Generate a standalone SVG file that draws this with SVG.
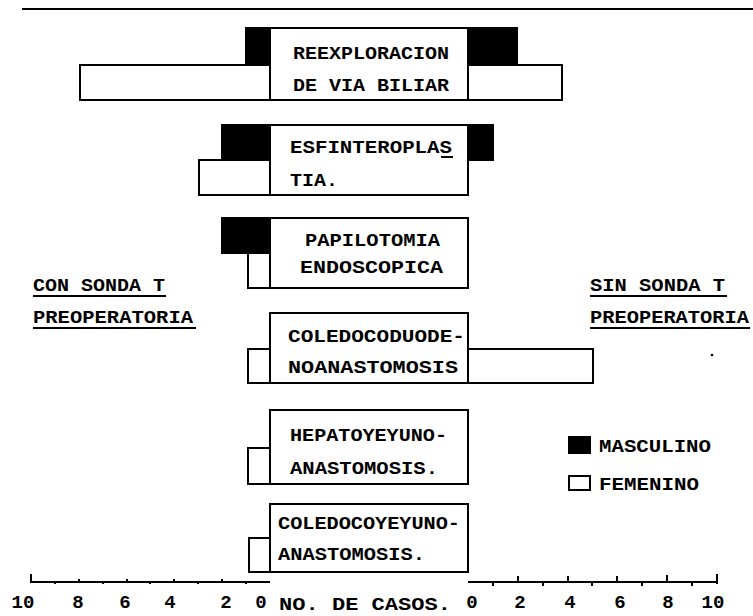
<svg xmlns="http://www.w3.org/2000/svg" width="753" height="616" viewBox="0 0 753 616">
<style>
.t{font-family:"Liberation Mono","DejaVu Sans Mono",monospace;font-weight:bold;font-size:19px;fill:#000}
.n{font-family:"Liberation Mono","DejaVu Sans Mono",monospace;font-weight:bold;font-size:19px;fill:#000;text-anchor:middle}
.box{fill:#fff;stroke:#000;stroke-width:2}
.m{fill:#000;stroke:#000;stroke-width:2}
.f{fill:#fff;stroke:#000;stroke-width:2}
.ln{stroke:#000;stroke-width:2;fill:none}
</style>
<rect width="753" height="616" fill="#fff"/>
<line class="ln" x1="22" y1="9" x2="753" y2="9"/>

<g id="reexploracion">
  <rect class="m" x="246" y="28" width="24" height="37"/>
  <rect class="m" x="468" y="28" width="49" height="36"/>
  <rect class="f" x="80" y="65" width="190" height="35"/>
  <rect class="f" x="468" y="65" width="94" height="35"/>
  <rect class="box" x="270" y="28" width="198" height="72"/>
  <text class="t" x="293" y="59" textLength="156" lengthAdjust="spacingAndGlyphs">REEXPLORACION</text>
  <text class="t" x="293" y="91" textLength="156" lengthAdjust="spacingAndGlyphs">DE VIA BILIAR</text>
</g>

<g id="esfinteroplastia">
  <rect class="m" x="222" y="125" width="48" height="35"/>
  <rect class="m" x="468" y="125" width="25" height="35"/>
  <rect class="f" x="199" y="160" width="71" height="35"/>
  <rect class="box" x="270" y="125" width="198" height="70"/>
  <text class="t" x="290" y="153" textLength="162" lengthAdjust="spacingAndGlyphs">ESFINTEROPLAS</text>
  <line class="ln" x1="441" y1="157" x2="453" y2="157"/>
  <text class="t" x="290" y="186" textLength="48" lengthAdjust="spacingAndGlyphs">TIA.</text>
</g>

<g id="papilotomia">
  <rect class="m" x="222" y="218" width="48" height="35"/>
  <rect class="f" x="248" y="253" width="22" height="35"/>
  <rect class="box" x="270" y="218" width="198" height="70"/>
  <text class="t" x="305" y="246" textLength="135" lengthAdjust="spacingAndGlyphs">PAPILOTOMIA</text>
  <text class="t" x="300" y="273" textLength="143" lengthAdjust="spacingAndGlyphs">ENDOSCOPICA</text>
</g>

<g id="coledocoduodenoanastomosis">
  <rect class="f" x="248" y="349" width="22" height="34"/>
  <rect class="f" x="468" y="349" width="125" height="34"/>
  <rect class="box" x="270" y="313" width="198" height="70"/>
  <text class="t" x="288" y="342" textLength="177" lengthAdjust="spacingAndGlyphs">COLEDOCODUODE-</text>
  <text class="t" x="288" y="373" textLength="170" lengthAdjust="spacingAndGlyphs">NOANASTOMOSIS</text>
</g>

<g id="hepatoyeyunoanastomosis">
  <rect class="f" x="248" y="448" width="22" height="36"/>
  <rect class="box" x="270" y="410" width="198" height="74"/>
  <text class="t" x="290" y="441" textLength="157" lengthAdjust="spacingAndGlyphs">HEPATOYEYUNO-</text>
  <text class="t" x="290" y="474" textLength="148" lengthAdjust="spacingAndGlyphs">ANASTOMOSIS.</text>
</g>

<g id="coledocoyeyunoanastomosis">
  <rect class="f" x="249" y="538" width="21" height="34"/>
  <rect class="box" x="270" y="504" width="198" height="68"/>
  <text class="t" x="278" y="529" textLength="182" lengthAdjust="spacingAndGlyphs">COLEDOCOYEYUNO-</text>
  <text class="t" x="278" y="560" textLength="147" lengthAdjust="spacingAndGlyphs">ANASTOMOSIS.</text>
</g>

<g id="label-con">
  <text class="t" x="33" y="291" textLength="132" lengthAdjust="spacingAndGlyphs">CON SONDA T</text>
  <line class="ln" x1="33" y1="296" x2="166" y2="296"/>
  <text class="t" x="33" y="323" textLength="160" lengthAdjust="spacingAndGlyphs">PREOPERATORIA</text>
  <line class="ln" x1="33" y1="328" x2="196" y2="328"/>
</g>

<g id="label-sin">
  <text class="t" x="590" y="291" textLength="135" lengthAdjust="spacingAndGlyphs">SIN SONDA T</text>
  <line class="ln" x1="590" y1="296" x2="727" y2="296"/>
  <text class="t" x="590" y="323" textLength="159" lengthAdjust="spacingAndGlyphs">PREOPERATORIA</text>
  <line class="ln" x1="590" y1="328" x2="750" y2="328"/>
  <circle cx="712" cy="355" r="1.3" fill="#000"/>
</g>

<g id="legend">
  <rect class="m" x="569" y="437" width="21" height="16"/>
  <text class="t" x="599" y="452" textLength="112" lengthAdjust="spacingAndGlyphs">MASCULINO</text>
  <rect class="f" x="569" y="476" width="21" height="14"/>
  <text class="t" x="599" y="490" textLength="100" lengthAdjust="spacingAndGlyphs">FEMENINO</text>
</g>

<g id="axes">
  <line class="ln" x1="31" y1="582" x2="270" y2="582"/>
  <line class="ln" x1="31" y1="574" x2="31" y2="583"/>
  <path class="ln" stroke-width="1.5" d="M55 582v2M79 582v-3M103 582v2M127 582v-3M150 582v2M174 582v-3M198 582v2M222 582v-3M246 582v2"/>
  <line class="ln" x1="468" y1="582" x2="717" y2="582"/>
  <line class="ln" x1="717" y1="574" x2="717" y2="584"/>
  <path class="ln" stroke-width="1.5" d="M493 582v4M518 582v-6M543 582v4M568 582v-6M592 582v4M617 582v-6M642 582v4M667 582v-7M692 582v4"/>
  <text class="n" x="23" y="608">10</text>
  <text class="n" x="78" y="608">8</text>
  <text class="n" x="125" y="608">6</text>
  <text class="n" x="170" y="608">4</text>
  <text class="n" x="226" y="608">2</text>
  <text class="n" x="261" y="608">0</text>
  <text class="t" x="279" y="610" textLength="172" lengthAdjust="spacingAndGlyphs">NO. DE CASOS.</text>
  <text class="n" x="472" y="608">0</text>
  <text class="n" x="520" y="608">2</text>
  <text class="n" x="570" y="608">4</text>
  <text class="n" x="620" y="608">6</text>
  <text class="n" x="668" y="608">8</text>
  <text class="n" x="713" y="608">10</text>
</g>
</svg>
